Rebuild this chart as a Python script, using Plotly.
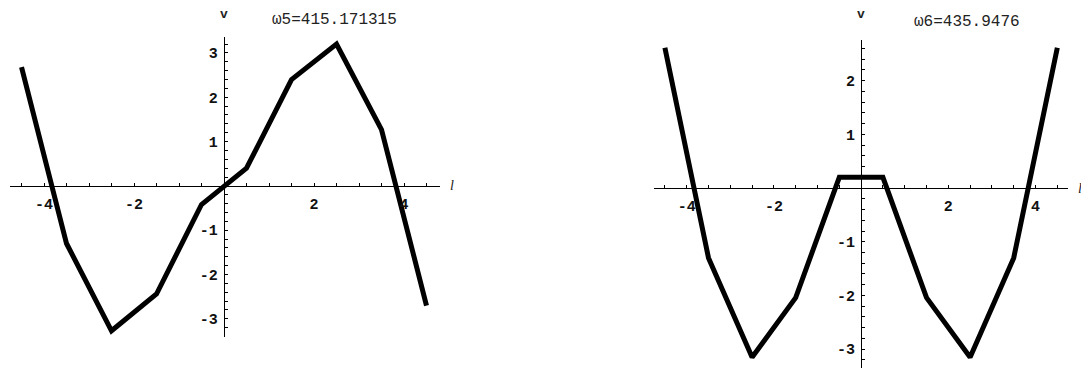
import plotly.graph_objects as go

# Sample positions along l and the two mode shapes v(l)
l_pts = [-4.5, -3.5, -2.5, -1.5, -0.5, 0.5, 1.5, 2.5, 3.5, 4.5]
v_mode5 = [2.68, -1.30, -3.27, -2.44, -0.42, 0.40, 2.40, 3.20, 1.27, -2.70]
v_mode6 = [2.61, -1.30, -3.15, -2.04, 0.20, 0.20, -2.04, -3.15, -1.30, 2.61]

titles = ["\u03c95=415.171315", "\u03c96=435.9476"]

x_tickvals = [-4, -2, 2, 4]
x_ticktext = ["-4", "-2", "2", "4"]
y_tickvals_5 = [-3, -2, -1, 1, 2, 3]
y_ticktext_5 = ["-3", "-2", "-1", "1", "2", "3"]
y_tickvals_6 = [-3, -2, -1, 1, 2]
y_ticktext_6 = ["-3", "-2", "-1", "1", "2"]

W, H = 1081, 368

# Panel geometry: (pixel box) and axis ranges
panels = [
    dict(px=(10, 440), py=(37, 337), xr=(-4.756, 4.8), yr=(-3.41, 3.36),
         yv=y_tickvals_5, yt=y_ticktext_5, v=v_mode5, title=titles[0],
         title_xy=(334, 20)),
    dict(px=(654, 1068), py=(40, 368), xr=(-4.75, 4.745), yr=(-3.35, 2.756),
         yv=y_tickvals_6, yt=y_ticktext_6, v=v_mode6, title=titles[1],
         title_xy=(967, 22)),
]

fig = go.Figure()
tick_font = dict(family="Liberation Mono", size=15, color="#111111", weight="bold")
annotations = []

for i, p in enumerate(panels, start=1):
    sfx = "" if i == 1 else str(i)
    xd = [p["px"][0] / W, p["px"][1] / W]
    yd = [(H - p["py"][1]) / H, (H - p["py"][0]) / H]
    # paper position of the origin, so the axes cross at (0, 0)
    x0_paper = xd[0] + (0 - p["xr"][0]) / (p["xr"][1] - p["xr"][0]) * (xd[1] - xd[0])
    y0_paper = yd[0] + (0 - p["yr"][0]) / (p["yr"][1] - p["yr"][0]) * (yd[1] - yd[0])

    fig.add_trace(go.Scatter(
        x=l_pts, y=p["v"], mode="lines",
        line=dict(color="black", width=5),
        xaxis="x" + sfx, yaxis="y" + sfx, showlegend=False, hoverinfo="skip",
    ))

    common = dict(showgrid=False, zeroline=False, showline=True, linecolor="black",
                  linewidth=1.3, ticks="inside", ticklen=3, tickwidth=1.3,
                  tickcolor="black", tickfont=tick_font, tickmode="array",
                  fixedrange=True)
    fig.layout["xaxis" + sfx] = dict(
        common, domain=xd, range=list(p["xr"]), anchor="free", position=y0_paper,
        tickvals=x_tickvals, ticktext=x_ticktext, ticklabelstandoff=4,
        minor=dict(dtick=0.5, tick0=0, ticks="inside", ticklen=3, tickwidth=1.3,
                   tickcolor="black"),
    )
    fig.layout["yaxis" + sfx] = dict(
        common, domain=yd, range=list(p["yr"]), anchor="free", position=x0_paper,
        tickvals=p["yv"], ticktext=p["yt"], ticklabelstandoff=3,
        minor=dict(dtick=0.2, tick0=0, ticks="inside", ticklen=3, tickwidth=1.3,
                   tickcolor="black"),
    )

    # axis names: v above the vertical axis, l past the end of the horizontal axis
    annotations.append(dict(x=0, y=1, xref="x" + sfx, yref="paper",
                            text="<b>v</b>", showarrow=False, yanchor="top", yshift=-5,
                            xanchor="center",
                            font=dict(family="Liberation Mono", size=13, color="#222222")))
    annotations.append(dict(x=1, y=0, xref="x%s domain" % sfx, yref="y" + sfx,
                            text="<i>l</i>", showarrow=False, xanchor="left", xshift=8,
                            yanchor="middle",
                            font=dict(family="Liberation Serif", size=14, color="#222222")))
    annotations.append(dict(x=p["title_xy"][0] / W, y=1 - p["title_xy"][1] / H,
                            xref="paper", yref="paper", text=p["title"], showarrow=False,
                            xanchor="center", yanchor="middle",
                            font=dict(family="Liberation Mono", size=16, color="#222222")))

fig.update_layout(
    width=W, height=H, margin=dict(l=0, r=0, t=0, b=0),
    paper_bgcolor="white", plot_bgcolor="white", annotations=annotations,
)

fig.write_html("out.html")
